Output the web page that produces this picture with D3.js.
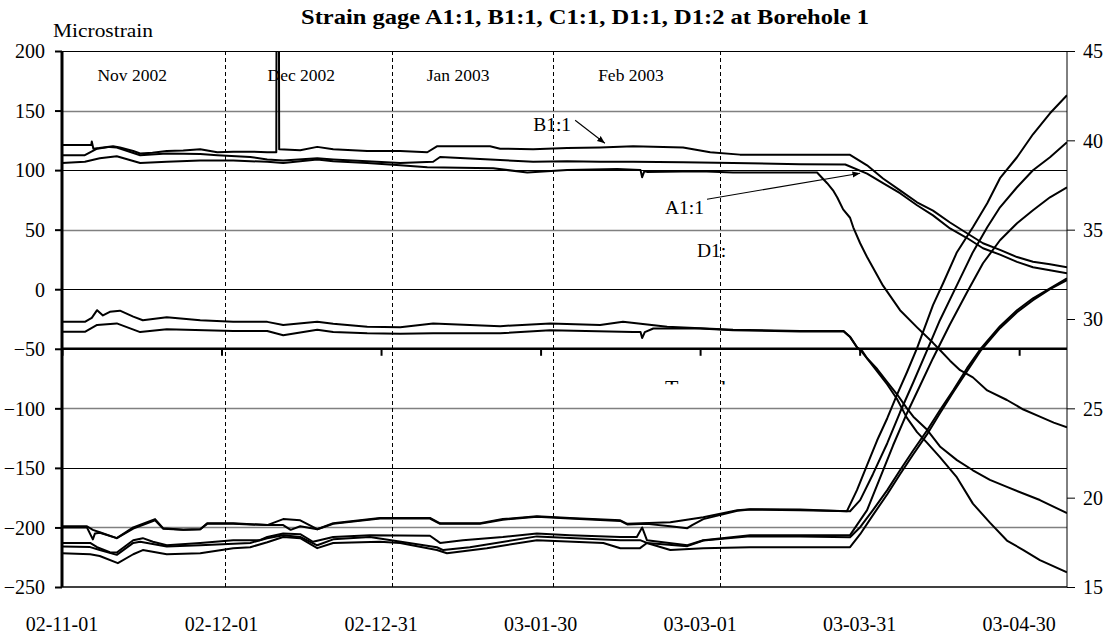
<!DOCTYPE html>
<html><head><meta charset="utf-8">
<script src="https://cdn.jsdelivr.net/npm/d3@7"></script>
<style>
html,body{margin:0;padding:0;background:#fff;}
svg{display:block;font-family:"Liberation Serif","Times New Roman",serif;}
</style></head>
<body><svg id="chart" width="1115" height="639"></svg>
<script>
// ---------- data (day offset from 2002-11-01, microstrain) ----------
const startDate = "2002-11-01";
const endDay = 189;
const xTickDates = ["2002-11-01","2002-12-01","2002-12-31","2003-01-30","2003-03-01","2003-03-31","2003-04-30"];
const monthBoundaries = ["2002-12-01T16:00:00Z","2003-01-02T02:00:00Z","2003-02-01T08:00:00Z","2003-03-04T18:00:00Z"];
const monthLabels = ["Nov 2002","Dec 2002","Jan 2003","Feb 2003"];
const monthLabelDays = [13.2,45,74.5,107];
const leftTicks = [200,150,100,50,0,-50,-100,-150,-200,-250];
const rightTicks = [45,40,35,30,25,20,15];
const grayGrid = [150,50,-100,-200];
const blackGrid = [100,0,-150];

const upperTop = [[0,121],[5.5,121],[5.6,124],[5.9,118],[7,118.5],[9.6,120],[10.9,119],[13.4,116],[14.7,114],[17,114.5],[19.7,116],[22.8,116.5],[26,117.5],[29.2,115],[32.2,115.5],[35.4,115.5],[38.6,115],[40.3,115],[40.36,260],[40.78,260],[40.84,117.5],[44.8,116.7],[48,119.5],[51,117.5],[57.4,116],[63.6,116],[68.7,115],[70.5,120],[80.5,120],[82.4,118],[88.6,117.5],[95,118.5],[101.2,119],[107.4,120],[116.8,119],[121.9,115],[127.5,113],[138.8,113],[148.2,112.8],[151.4,104],[154.4,93],[157.6,83],[160.8,73],[163.8,66],[167,56],[170.2,47],[173.2,38.6],[176.4,33],[179.6,27],[182.6,23],[185.8,21],[189,18.5]];
const upperMid = [[0,112.5],[4.3,112.5],[6.6,118],[9,119.5],[10.3,119],[14.7,112.5],[19.7,114],[26,113.5],[29.2,112.5],[35.4,111],[38.6,109],[41.6,108],[48,110],[51,109],[57.4,107.5],[63.6,106],[69.8,107],[71.1,111],[80.5,109],[88.6,107],[95,107.5],[101.2,107],[107.4,107],[116.8,106.5],[126.2,106],[138.8,105],[147.3,104.7],[151.4,97],[154.4,89],[157.6,80.6],[160.8,70.5],[163.8,62],[167,51],[170.2,43],[173.2,34.4],[176.4,29],[179.6,23],[182.6,18.5],[185.8,16],[189,13.5]];
const upperLow = [[0,106],[4.3,107],[7.1,110],[10.3,111.7],[14.7,106],[19.7,107],[26,108],[32.2,108],[38.6,107],[41.6,106],[48,109],[51,107.5],[57.4,106],[63.6,104],[68.7,102.5],[81.1,101.5],[87.5,98],[95,100],[104.4,101],[108.8,100],[109.1,94],[109.5,99],[110,98.5],[120,99],[126.2,98],[142,98],[143.9,89],[145,83],[145.8,77],[146.9,67],[148.2,60],[148.8,52],[150.1,38.6],[151.4,27],[154.4,3],[157.6,-17.6],[160.8,-32],[163.8,-45],[165.1,-51],[167,-60],[168.9,-68],[171.3,-74],[174,-85],[177.7,-93],[180.8,-101],[183.9,-107],[186.5,-112],[189,-116]];
const midTop = [[0,-27.4],[4.3,-27.4],[5.6,-24],[6.6,-17.6],[7.7,-22],[9,-19],[10.9,-18],[13.4,-23],[15.2,-26],[19.7,-23.5],[26,-26],[32.2,-27.4],[38.6,-27.4],[41.6,-30],[48,-27.4],[51,-29],[57.4,-31.6],[63.6,-32],[69.8,-28.7],[82.4,-31],[91.8,-28.7],[101.2,-30],[105.5,-27.4],[113.8,-31.6],[126.2,-34],[138.8,-35],[147,-35],[148.2,-40],[149.5,-48.7],[150.5,-52],[151.4,-58],[153.3,-67],[155.2,-78],[157,-88],[158.9,-100],[160.1,-107],[162.7,-118],[165.1,-132],[168.3,-143.5],[171.3,-152],[174.5,-160],[177.7,-166],[183.9,-177],[189,-188]];
const midLow = [[0,-35.8],[4.3,-35.8],[6.6,-30],[10.3,-28.7],[14.7,-36],[19.7,-33.6],[32.2,-35],[38.6,-35],[41.6,-38.6],[48,-34],[51,-36],[57.4,-37],[63.6,-37.3],[69.8,-37],[82.4,-37],[91.8,-34.4],[107.4,-36],[108.8,-36],[109.1,-41],[109.6,-36],[111.2,-33],[120,-33],[126.2,-34.4],[138.8,-35.5],[147,-35.5],[148.2,-40],[149.5,-48.7],[150.5,-53],[151.4,-58],[153.3,-69],[155.2,-80],[157,-92],[158.9,-108],[160.8,-120],[162.7,-129],[165.1,-141],[168.3,-158],[171.3,-180],[174.5,-196],[177.7,-211],[180.8,-219],[183.9,-227.5],[189,-237.6]];
const lowA = [[0,-199],[4.7,-199],[5.8,-202],[7.1,-204],[10.3,-209],[13.4,-200],[17.5,-193],[19,-200.6],[22.8,-202],[26,-201.5],[27.3,-196.5],[32.2,-196.5],[38.6,-198],[41.6,-193],[44.8,-194],[48,-201.5],[51,-196.5],[59.8,-192],[69.2,-192],[71.1,-196.5],[78.6,-196.5],[82.9,-193],[89.3,-190.6],[95.5,-192],[105,-194],[106.3,-197],[114.4,-195.6],[120.6,-191.4],[127,-185.5],[129.4,-184.7],[138.8,-185],[147.6,-186.4],[149.5,-168.7],[151.4,-147.7],[153.3,-126.8],[155.2,-108.3],[157,-89],[158.9,-69.7],[160.8,-49.5],[163.8,-13.4],[165.7,5],[168.3,31.1],[171.3,52],[174,72.2],[176.4,93.2],[179.6,110.8],[182.6,130.1],[185.8,147.7],[189,162.9]];
const lowB = [[0,-200],[4.7,-200],[5.8,-210],[6.2,-205],[7.1,-204.5],[10.3,-209],[13.4,-201],[17.5,-194],[19,-201],[22.8,-202],[26,-201.5],[27.3,-197],[32.2,-197],[38.6,-198],[41.6,-198],[43,-202],[44.8,-199],[48,-201.5],[51,-197],[59.8,-192.5],[69.2,-192.5],[71.1,-197],[78.6,-197],[82.9,-193.5],[89.3,-191],[95.5,-192.5],[105,-194.5],[106.3,-197.5],[110,-197],[114.4,-199],[117.6,-200.6],[118.5,-198],[120.6,-193],[127,-186],[129.4,-185],[138.8,-185.5],[148.2,-186.4],[150.1,-177.1],[152.5,-155.3],[155.2,-129.3],[157.6,-103.3],[160.1,-78.1],[162.7,-51.2],[165.1,-26],[168.3,3.4],[171.3,31.1],[174,52],[176.4,68.8],[179.6,85.6],[182.6,99.9],[185.8,110.8],[189,123.4]];
const lowC = [[0,-213],[5.3,-213],[6.6,-216.6],[9,-220.8],[10.3,-221],[13.4,-210.7],[15.2,-209],[17.1,-212],[19.7,-215],[26,-213],[32.2,-210.7],[37.2,-210.7],[38.6,-208],[41.6,-205],[44.8,-205.7],[47.2,-212],[51,-208],[57.9,-206.5],[69.2,-207],[71.1,-213],[75.4,-210.7],[82.9,-208],[89.3,-205],[95.5,-206.5],[105,-208],[108.1,-208],[109.1,-200],[110,-210.7],[117.6,-215],[120.6,-210.7],[129.4,-206.5],[138.8,-206.5],[148.2,-206.5],[151.4,-185.5],[153.9,-157.8],[156.3,-131],[158.9,-104.1],[161.4,-80.6],[163.8,-57.9],[167,-29.4],[170.2,-2.5],[173.2,21.8],[176.4,41.1],[179.6,55.4],[182.6,66.3],[185.8,77.2],[189,85.6]];
const lowD = [[0,-216],[5.3,-216.5],[7.1,-219],[10.3,-223],[13.4,-213],[14.7,-212],[19.7,-216],[26,-215],[35.4,-213],[38.6,-209],[41.6,-206.5],[44.8,-208],[48,-215],[51,-210],[57.9,-208],[70.5,-216.6],[71.7,-219],[76.7,-216.6],[89.3,-207.5],[105,-210.7],[108.7,-210.7],[110,-213],[117.6,-215.7],[120.6,-211],[129.4,-207.5],[138.8,-207.5],[148.2,-208.2],[150.1,-199.8],[152.5,-185.5],[155.2,-168.7],[157.6,-152],[160.1,-135.2],[162.7,-118.4],[165.1,-101.6],[167.6,-84.8],[170.2,-66.3],[172.7,-50.4],[176.4,-31.1],[179.6,-17.6],[182.6,-7.6],[185.8,0.8],[189,9.2]];
const lowE = [[0,-221.6],[5.3,-222.5],[7.1,-224],[10.5,-230],[13.4,-222.5],[15.2,-219],[19.7,-222.5],[26,-221.6],[32.2,-217.4],[35.4,-216.6],[38.6,-212.4],[41.6,-208],[44.8,-209],[48,-217.4],[51,-213],[59.8,-212],[63.6,-213],[70.5,-219],[72.4,-221.6],[79.9,-217.4],[89.3,-210.7],[101.8,-213],[105,-217.4],[108.7,-217.4],[110,-213],[114.4,-219],[120.6,-217.4],[129.4,-216.6],[138.8,-216.6],[148.2,-216.6],[150.1,-205.7],[152.5,-189.7],[155.2,-172.1],[157.6,-155.3],[160.1,-138.5],[162.7,-121.7],[165.1,-104.1],[167.6,-86.5],[170.2,-68.8],[172.7,-52],[176.4,-32.7],[179.6,-19.3],[182.6,-9.2],[185.8,0],[189,7.6]];
const allSeries = [upperTop, upperMid, upperLow, midTop, midLow, lowA, lowB, lowC, lowD, lowE];

// annotations: [day, microstrain]
const labelB1 = {text:"B1:1", at:[88.6,138.5], from:[96.5,141.9], to:[102.1,122.6]};
const labelA1 = {text:"A1:1", at:[113.4,68.8], from:[121.3,75.6], to:[150.1,97.4]};
const labelD1 = {text:"D1:", at:[119.4,32.7]};
const labelTunnel = {text:"Tunnel", at:[113.4,-89]};

// ---------- drawing ----------
const svg = d3.select("#chart");
const t0 = Date.parse(startDate + "T00:00:00Z");
const dayToDate = d => new Date(t0 + d*864e5);
const x = d3.scaleUtc().domain([dayToDate(0), dayToDate(endDay)]).range([62,1067]);
const yL = d3.scaleLinear().domain([-250,200]).range([587,51]);
const yR = d3.scaleLinear().domain([15,45]).range([587,51]);
const X = d => x(dayToDate(d));
const parseD = d3.utcParse("%Y-%m-%d");
const fmt = d3.utcFormat("%y-%m-%d");

const defs = svg.append("defs");
defs.append("clipPath").attr("id","plotClip")
  .append("rect").attr("x",62).attr("y",51).attr("width",1005).attr("height",536);
defs.append("marker").attr("id","arrow").attr("viewBox","0 0 10 10").attr("refX",10).attr("refY",5)
  .attr("markerWidth",7).attr("markerHeight",7).attr("orient","auto-start-reverse")
  .append("path").attr("d","M0,1 L10,5 L0,9 z").attr("fill","#000");
defs.append("clipPath").attr("id","tunnelClip")
  .append("rect").attr("x",600).attr("y",376).attr("width",200).attr("height",8.6);

// grid
svg.append("g").selectAll("line").data(grayGrid).join("line")
  .attr("x1",62).attr("x2",1067).attr("y1",d=>Math.round(yL(d))+0.5).attr("y2",d=>Math.round(yL(d))+0.5)
  .attr("stroke","#808080").attr("stroke-width",1.3);
svg.append("g").selectAll("line").data(blackGrid).join("line")
  .attr("x1",62).attr("x2",1067).attr("y1",d=>Math.round(yL(d))+0.5).attr("y2",d=>Math.round(yL(d))+0.5)
  .attr("stroke","#000").attr("stroke-width",1);
svg.append("line").attr("x1",62).attr("x2",1067).attr("y1",yL(200)+0.5).attr("y2",yL(200)+0.5).attr("stroke","#000");
svg.append("line").attr("x1",62).attr("x2",1067).attr("y1",yL(-250)).attr("y2",yL(-250)).attr("stroke","#000").attr("stroke-width",1.3);

// month boundaries
svg.append("g").selectAll("line").data(monthBoundaries).join("line")
  .attr("x1",d=>Math.round(x(new Date(d)))+0.5).attr("x2",d=>Math.round(x(new Date(d)))+0.5)
  .attr("y1",51).attr("y2",587).attr("stroke","#000").attr("stroke-width",1).attr("stroke-dasharray","4,3");

// month labels
svg.append("g").selectAll("text").data(monthLabels).join("text")
  .attr("x",(d,i)=>X(monthLabelDays[i])).attr("y",81).attr("text-anchor","middle")
  .attr("font-size",17.5).text(d=>d);

// series
const line = d3.line().x(d=>X(d[0])).y(d=>yL(d[1]));
svg.append("g").attr("clip-path","url(#plotClip)").selectAll("path").data(allSeries).join("path")
  .attr("d",line).attr("fill","none").attr("stroke","#000").attr("stroke-width",2).attr("stroke-linejoin","round");

// x axis crossing at -50
const xAxis = d3.axisBottom(x).tickValues(xTickDates.map(parseD)).tickSize(7).tickFormat("");
const gx = svg.append("g").attr("transform",`translate(0,${yL(-50)})`).call(xAxis);
gx.select(".domain").attr("stroke-width",2.6).attr("d",`M62,0H1067`);
gx.selectAll(".tick line").attr("stroke-width",2);
svg.append("g").selectAll("text").data(xTickDates).join("text")
  .attr("x",d=>x(parseD(d))).attr("y",631).attr("text-anchor","middle").attr("font-size",20)
  .text(d=>fmt(parseD(d)));

// left axis
const gl = svg.append("g").attr("transform","translate(62,0)")
  .call(d3.axisLeft(yL).tickValues(leftTicks).tickSize(7).tickPadding(10));
gl.select(".domain").attr("stroke-width",3).attr("d","M0,51V587");
gl.selectAll(".tick line").attr("stroke-width",2);
gl.selectAll(".tick text").attr("font-size",20).attr("font-family","Liberation Serif, serif").attr("fill","#000").attr("dy","0.34em");

// right axis
const gr = svg.append("g").attr("transform","translate(1067,0)")
  .call(d3.axisRight(yR).tickValues(rightTicks).tickSize(8).tickPadding(8));
gr.select(".domain").attr("d","M0,51V587");
gr.selectAll(".tick text").attr("font-size",20).attr("font-family","Liberation Serif, serif").attr("fill","#000").attr("dy","0.34em");

// titles
svg.append("text").attr("x",301).attr("y",24).attr("font-size",22).attr("font-weight","bold")
  .attr("textLength",568).attr("lengthAdjust","spacingAndGlyphs")
  .text("Strain gage A1:1, B1:1, C1:1, D1:1, D1:2 at Borehole 1");
svg.append("text").attr("x",53).attr("y",37).attr("font-size",19)
  .attr("textLength",100).attr("lengthAdjust","spacingAndGlyphs").text("Microstrain");

// annotations
function label(o){
  svg.append("text").attr("x",X(o.at[0])).attr("y",yL(o.at[1])).attr("dy","0.34em")
    .attr("font-size",19.5).text(o.text);
  if(o.from){
    svg.append("line").attr("x1",X(o.from[0])).attr("y1",yL(o.from[1]))
      .attr("x2",X(o.to[0])).attr("y2",yL(o.to[1])).attr("stroke","#000").attr("stroke-width",1.1)
      .attr("marker-end","url(#arrow)");
  }
}
label(labelB1); label(labelA1); label(labelD1);
svg.append("text").attr("clip-path","url(#tunnelClip)")
  .attr("x",X(labelTunnel.at[0])).attr("y",yL(labelTunnel.at[1])).attr("font-size",22)
  .text(labelTunnel.text);
</script></body></html>
